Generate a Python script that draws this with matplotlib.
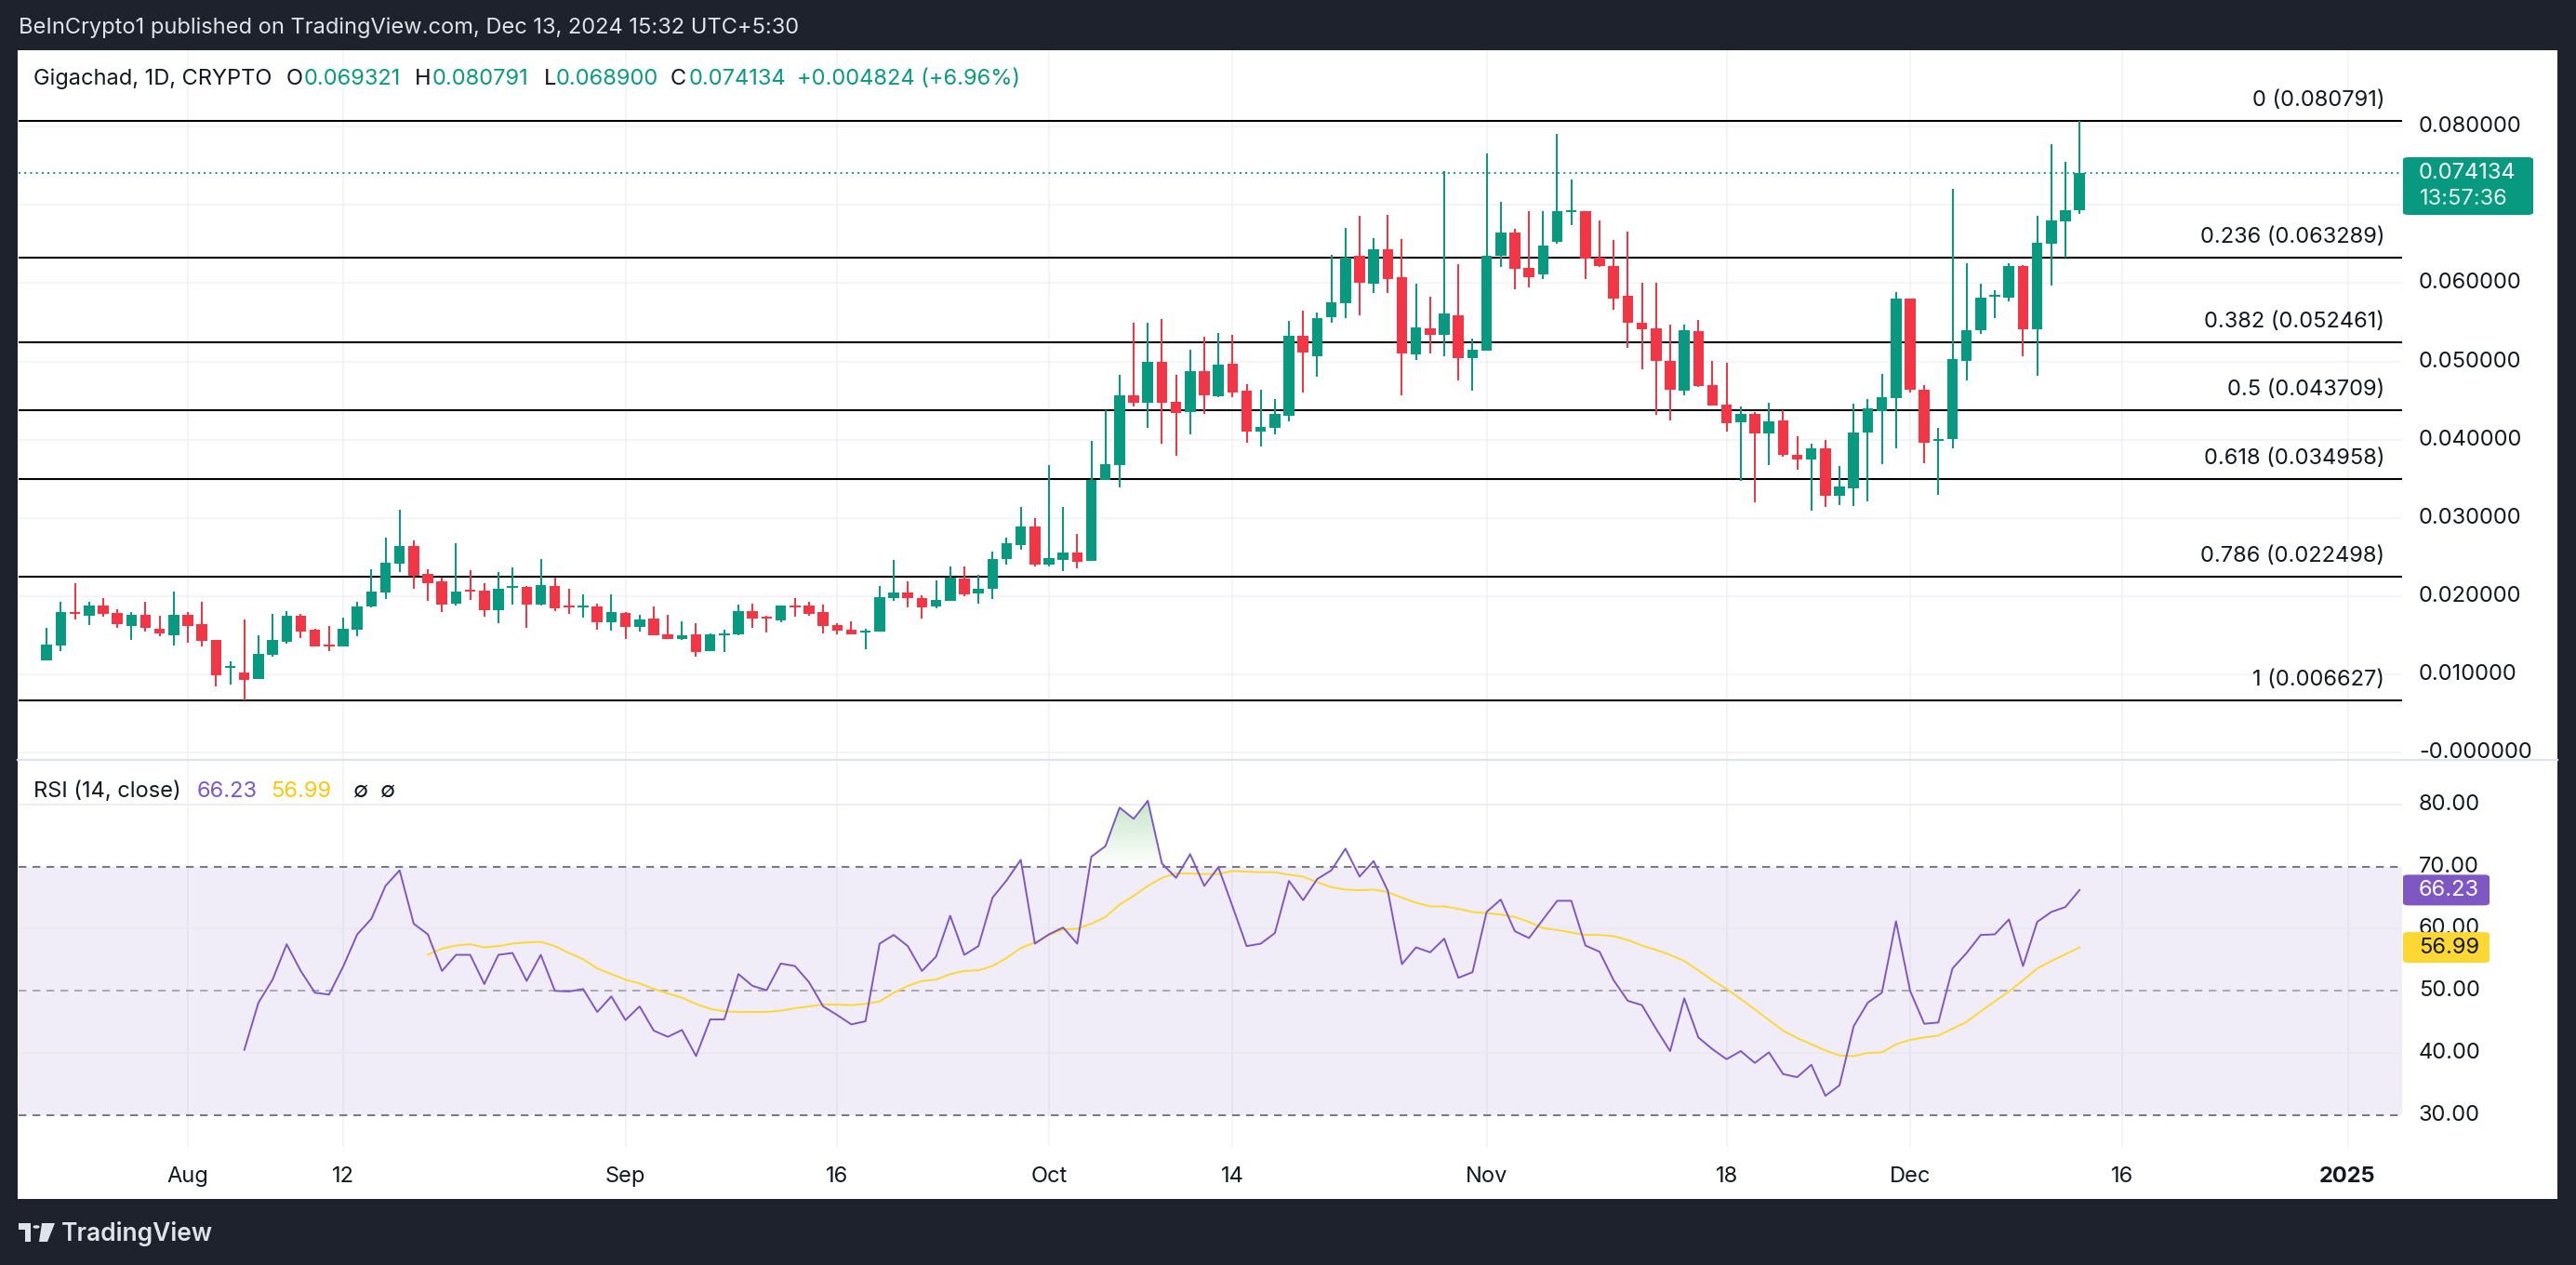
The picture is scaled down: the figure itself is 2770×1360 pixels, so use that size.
import numpy as np
import pandas as pd
import matplotlib
matplotlib.use("Agg")
import matplotlib.pyplot as plt
import matplotlib.transforms as mtransforms
from matplotlib.patches import Rectangle, FancyBboxPatch, Polygon, Circle
from matplotlib.lines import Line2D
from matplotlib.path import Path
from matplotlib.colors import LinearSegmentedColormap

plt.rcParams['font.family'] = ['Inter', 'DejaVu Sans']

# ---------------- data ----------------
CANDLE_START = '2024-07-22'
REF_DATE = '2024-08-01'

opens = [
    .01181, .01371, .01795, .01752, .01879, .01784, .01621, .01760, .01581, .01502,
    .01760, .01641, .01439, .01086, .01023, .00943, .01252, .01419, .01748, .01570,
    .01379, .01360, .01574, .01871, .02049, .02418, .02640, .02283, .02188, .01906,
    .02081, .02069, .01823, .02109, .02117, .01895, .02128, .01879, .01859, .01867,
    .01669, .01784, .01609, .01712, .01510, .01455, .01510, .01300, .01502, .01514,
    .01807, .01736, .01692, .01879, .01879, .01795, .01629, .01570, .01538, .01550,
    .01974, .02045, .01974, .01861, .01942, .02222, .02035, .02094, .02472, .02651,
    .02885, .02397, .02459, .02553, .02455, .03482, .03673, .04565, .04476, .04998,
    .04480, .04353, .04875, .04552, .04969, .04625, .04107, .04154, .04307, .05326,
    .05066, .05562, .05741, .06349, .05992, .06434, .06077, .05088, .05423, .05338,
    .05589, .05042, .05135, .06349, .06648, .06197, .06112, .06527, .06912, .06918,
    .06328, .06218, .05840, .05492, .05423, .05011, .04625, .05385, .04698, .04447,
    .04222, .04328, .04083, .04247, .03807, .03748, .03886, .03276, .03382, .04088,
    .04366, .04529, .05808, .04635, .03981, .04007, .05011, .05400, .05829, .05818,
    .06216, .05415, .06509, .06795, .069321]
highs = [
    .01593, .01926, .02164, .01926, .01974, .01831, .01795, .01926, .01748, .02057,
    .01795, .01926, .01439, .01165, .01700, .01498, .01772, .01807, .01772, .01581,
    .01617, .01724, .01926, .02342, .02747, .03103, .02711, .02342, .02235, .02675,
    .02330, .02164, .02307, .02366, .02128, .02473, .02235, .02093, .02021, .01902,
    .02021, .01795, .01760, .01867, .01760, .01677, .01653, .01526, .01574, .01891,
    .01902, .01748, .01879, .01974, .01926, .01891, .01653, .01677, .01581, .02128,
    .02461, .02188, .02010, .02201, .02378, .02378, .02273, .02565, .02752, .03140,
    .02993, .03674, .03138, .02795, .03984, .04375, .04829, .05492, .05492, .05543,
    .04828, .05148, .05313, .05364, .05339, .04714, .04638, .04519, .05517, .05648,
    .05623, .06362, .06708, .06859, .06575, .06872, .06562, .05993, .05827, .07432,
    .06243, .05292, .07657, .07037, .06690, .06919, .06919, .07908, .07326, .06918,
    .06800, .06553, .06660, .06005, .06005, .05471, .05471, .05529, .05008, .04982,
    .04425, .04353, .04470, .04380, .04040, .03944, .03992, .03665, .04459, .04514,
    .04842, .05887, .05808, .04699, .04151, .07204, .06254, .05989, .05909, .06254,
    .06227, .06860, .07777, .07549, .080791]
lows = [
    .01181, .01300, .01704, .01633, .01740, .01597, .01443, .01550, .01490, .01371,
    .01407, .01360, .00848, .00872, .006627, .00943, .01229, .01395, .01467, .01360,
    .01300, .01360, .01490, .01859, .01966, .02311, .02093, .01938, .01799, .01883,
    .01954, .01740, .01657, .01895, .01597, .01883, .01811, .01776, .01728, .01574,
    .01562, .01455, .01550, .01502, .01455, .01443, .01229, .01300, .01288, .01502,
    .01597, .01538, .01669, .01740, .01752, .01526, .01514, .01514, .01324, .01550,
    .01942, .01859, .01716, .01844, .01942, .01993, .01903, .01967, .02399, .02592,
    .02384, .02384, .02324, .02354, .02455, .03482, .03389, .04425, .04154, .03952,
    .03799, .04061, .04328, .04540, .04540, .03964, .03916, .04065, .04234, .04600,
    .04804, .05492, .05551, .05590, .05874, .05874, .04566, .05016, .05101, .05071,
    .04757, .04626, .05135, .06205, .05920, .05946, .06052, .06502, .06740, .06052,
    .06205, .05662, .05173, .04895, .04316, .04243, .04566, .04672, .04435, .04107,
    .03472, .03201, .03670, .03785, .03620, .03096, .03137, .03164, .03148, .03212,
    .03689, .03886, .04598, .03700, .03291, .03886, .04757, .05346, .05558, .05765,
    .05070, .04816, .05972, .06328, .068900]
closes = [
    .01379, .01795, .01776, .01879, .01776, .01645, .01760, .01597, .01526, .01760,
    .01621, .01431, .00991, .01106, .00931, .01260, .01439, .01748, .01550, .01360,
    .01360, .01581, .01867, .02057, .02426, .02640, .02259, .02168, .01895, .02057,
    .02061, .01823, .02093, .02128, .01895, .02140, .01847, .01859, .01879, .01669,
    .01795, .01609, .01700, .01502, .01455, .01498, .01288, .01514, .01522, .01807,
    .01716, .01716, .01879, .01859, .01776, .01621, .01562, .01514, .01558, .01986,
    .02045, .01974, .01859, .01950, .02239, .02027, .02094, .02468, .02672, .02885,
    .02397, .02481, .02553, .02442, .03482, .03686, .04565, .04476, .04998, .04476,
    .04345, .04875, .04565, .04956, .04599, .04107, .04162, .04328, .05326, .05113,
    .05550, .05755, .06328, .06005, .06434, .06052, .05101, .05432, .05338, .05610,
    .05042, .05148, .06349, .06648, .06184, .06082, .06481, .06918, .06933, .06319,
    .06218, .05802, .05492, .05411, .05011, .04638, .05398, .04685, .04435, .04209,
    .04328, .04077, .04231, .03807, .03748, .03886, .03276, .03399, .04088, .04402,
    .04545, .05808, .04635, .03960, .04007, .05027, .05400, .05814, .05856, .06216,
    .05415, .06515, .06799, .06932, .074134]

# RSI(14) values, Aug 5 .. Dec 13
rsi = [
    40.5, 48.1, 51.8, 57.5, 53.2, 49.7, 49.4, 53.9, 59.1, 61.6,
    66.9, 69.4, 60.8, 59.1, 53.2, 55.8, 55.8, 51.1, 55.8, 56.1,
    51.6, 55.8, 50.0, 49.9, 50.3, 46.6, 49.1, 45.3, 47.5, 43.6,
    42.6, 43.7, 39.5, 45.4, 45.4, 52.7, 50.8, 50.1, 54.4, 54.0,
    51.4, 47.5, 46.1, 44.6, 45.1, 57.6, 59.0, 57.2, 53.2, 55.5,
    62.1, 55.8, 57.2, 65.0, 67.8, 71.1, 57.6, 59.1, 60.2, 57.6,
    71.6, 73.3, 79.5, 77.7, 80.6, 70.5, 68.2, 72.0, 66.9, 69.9,
    63.6, 57.2, 57.6, 59.3, 67.7, 64.6, 68.0, 69.4, 72.9, 68.4,
    70.9, 66.1, 54.3, 57.0, 56.2, 58.4, 52.1, 53.0, 62.7, 64.7,
    59.6, 58.5, 61.5, 64.5, 64.5, 57.3, 56.3, 51.7, 48.4, 47.7,
    43.9, 40.3, 48.8, 42.5, 40.6, 39.0, 40.3, 38.4, 40.1, 36.6,
    36.1, 38.1, 33.1, 34.8, 44.3, 48.1, 49.7, 61.2, 50.0, 44.7,
    44.9, 53.6, 56.1, 59.0, 59.1, 61.5, 54.0, 61.1, 62.7, 63.5,
    66.23]
# RSI-based moving average, Aug 18 .. Dec 13
rsi_ma = [
    55.8, 56.8, 57.3, 57.5, 57.0, 57.2, 57.6, 57.8, 57.9, 57.2,
    56.1, 55.1, 53.6, 52.7, 51.8, 51.2, 50.3, 49.6, 48.9, 47.9,
    47.1, 46.7, 46.6, 46.6, 46.6, 46.8, 47.2, 47.5, 47.8, 47.8,
    47.7, 47.9, 48.3, 49.7, 50.8, 51.6, 51.8, 52.7, 53.2, 53.3,
    54.0, 55.3, 56.9, 57.8, 59.0, 59.9, 60.0, 60.8, 61.9, 63.9,
    65.3, 66.9, 68.2, 68.9, 68.9, 68.8, 68.8, 69.3, 69.2, 69.1,
    69.1, 68.7, 68.4, 67.5, 66.7, 66.3, 66.2, 66.3, 65.9, 65.0,
    64.2, 63.6, 63.6, 63.2, 62.7, 62.5, 62.3, 61.9, 61.1, 60.1,
    59.8, 59.4, 59.0, 59.0, 58.8, 58.2, 57.3, 56.6, 55.8, 54.8,
    53.3, 51.7, 50.3, 48.7, 47.0, 45.3, 43.6, 42.4, 41.4, 40.4,
    39.6, 39.5, 40.0, 40.1, 41.4, 42.1, 42.5, 42.8, 43.9, 45.0,
    46.7, 48.3, 49.9, 51.7, 53.6, 54.8, 55.9, 56.99]

fib_prices = [0.080791, 0.063289, 0.052461, 0.043709, 0.034958, 0.022498, 0.006627]
fib_labels = ['0 (0.080791)', '0.236 (0.063289)', '0.382 (0.052461)', '0.5 (0.043709)',
              '0.618 (0.034958)', '0.786 (0.022498)', '1 (0.006627)']

price_grid = [0.00, 0.01, 0.02, 0.03, 0.04, 0.05, 0.06, 0.07, 0.08]
price_tick_vals = [0.08, 0.06, 0.05, 0.04, 0.03, 0.02, 0.01, 0.0]
price_tick_labels = ['0.080000', '0.060000', '0.050000', '0.040000', '0.030000',
                     '0.020000', '0.010000', '-0.000000']
rsi_tick_vals = [80, 70, 60, 50, 40, 30]
rsi_tick_labels = ['80.00', '70.00', '60.00', '50.00', '40.00', '30.00']
time_tick_dates = ['2024-08-01', '2024-08-12', '2024-09-01', '2024-09-16', '2024-10-01',
                   '2024-10-14', '2024-11-01', '2024-11-18', '2024-12-01', '2024-12-16',
                   '2025-01-01']
time_tick_labels = ['Aug', '12', 'Sep', '16', 'Oct', '14', 'Nov', '18', 'Dec', '16', '2025']

header_text = 'BeInCrypto1 published on TradingView.com, Dec 13, 2024 15:32 UTC+5:30'
symbol_text = 'Gigachad, 1D, CRYPTO'
change_text = '+0.004824 (+6.96%)'
countdown_text = '13:57:36'

# ---------------- style ----------------
FRAME = '#1E222D'
GREEN = '#089981'
RED = '#F23645'
PURPLE = '#7E57C2'
YELLOW = '#FDD835'
GRID = '#F0F1F5'
DARK = '#131722'
FS = 17.0

W, H, DPI = 2770, 1360, 100
fig = plt.figure(figsize=(W / DPI, H / DPI), dpi=DPI)
fig.patch.set_facecolor(FRAME)


def fx(px):
    return px / W


def fy(py):
    return 1 - py / H


fig.add_artist(Rectangle((fx(19), fy(1289)), fx(2750) - fx(19), fy(54) - fy(1289),
                         transform=fig.transFigure, facecolor='white', edgecolor='none', zorder=-5))

ax_p = fig.add_axes([fx(20), fy(816), fx(2583) - fx(20), fy(54) - fy(816)])
ax_r = fig.add_axes([fx(20), fy(1233), fx(2583) - fx(20), fy(817) - fy(1233)])
XLIM = (-11.99, 156.85)
for ax in (ax_p, ax_r):
    ax.set_facecolor('none')
    for s in ax.spines.values():
        s.set_visible(False)
    ax.set_xticks([])
    ax.set_yticks([])

ref = pd.Timestamp(REF_DATE)
dates = pd.date_range(CANDLE_START, periods=len(opens), freq='D')
x = np.asarray((dates - ref).days, dtype=float)
o = np.array(opens); h = np.array(highs); l = np.array(lows); c = np.array(closes)
tick_x = np.array([(pd.Timestamp(t) - ref).days for t in time_tick_dates], dtype=float)

# grids
for t in tick_x:
    ax_p.axvline(t, color=GRID, lw=1.1, zorder=0)
    ax_r.axvline(t, color=GRID, lw=1.1, zorder=0)
for v in price_grid:
    ax_p.axhline(v, color=GRID, lw=1.1, zorder=0)
for v in (80, 60, 40):
    ax_r.axhline(v, color='#E9E9EF', lw=1.1, zorder=0.6)

# pane separator
fig.add_artist(Line2D([fx(19), fx(2750)], [fy(817), fy(817)], transform=fig.transFigure,
                      color='#E0E3EB', lw=1.6, zorder=1))

# fib lines
for p in fib_prices:
    ax_p.axhline(p, color='black', lw=1.5, zorder=2)

# last price dotted line
ax_p.axhline(c[-1], color=GREEN, lw=1.4, ls=(0, (1, 2.2)), zorder=2)

# candles
up = c >= o
cols = np.where(up, GREEN, RED)
ax_p.vlines(x, l, h, colors=cols, lw=1.45, zorder=3)
body_lo = np.minimum(o, c)
body_h = np.maximum(np.abs(c - o), 0.00022)
ax_p.bar(x, body_h, bottom=body_lo, width=0.76, color=cols, linewidth=0, zorder=4)

ax_p.set_xlim(*XLIM)
ax_p.set_ylim(-0.000832, 0.089774)

# fib labels
tr_fib = mtransforms.blended_transform_factory(fig.transFigure, ax_p.transData) + \
    mtransforms.ScaledTranslation(0, 22 / DPI, fig.dpi_scale_trans)
for p, lab in zip(fib_prices, fib_labels):
    fig.text(fx(2564), p, lab, transform=tr_fib, ha='right', va='center',
             fontsize=FS, color=DARK, zorder=3)

# RSI pane
xr = x[-len(rsi):]
xm = x[-len(rsi_ma):]
rsi_a = np.array(rsi)
ax_r.axhspan(30, 70, facecolor=PURPLE, alpha=0.1, edgecolor='none', zorder=0.5)
ax_r.axhline(70, color='#787B86', lw=1.5, ls=(0, (4, 3.2)), zorder=1)
ax_r.axhline(30, color='#787B86', lw=1.5, ls=(0, (4, 3.2)), zorder=1)
ax_r.axhline(50, color='#A9ABB3', lw=1.5, ls=(0, (4, 3.2)), zorder=1)

fb = ax_r.fill_between(xr, 70, rsi_a, where=rsi_a >= 70, interpolate=True,
                       facecolor='none', edgecolor='none')
paths = fb.get_paths()
if len(paths):
    comp = Path.make_compound_path(*paths)
    cmap = LinearSegmentedColormap.from_list('ob', [(0.30, 0.69, 0.31, 0.0), (0.30, 0.69, 0.31, 0.32)])
    grad = np.linspace(0, 1, 256).reshape(-1, 1)
    im = ax_r.imshow(grad, extent=[xr[0], xr[-1], 70, rsi_a.max()], origin='lower',
                     aspect='auto', cmap=cmap, zorder=1.5, interpolation='bilinear')
    im.set_clip_path(comp, transform=ax_r.transData)

ax_r.plot(xm, rsi_ma, color=YELLOW, lw=1.4, zorder=2)
ax_r.plot(xr, rsi, color=PURPLE, lw=1.4, zorder=3)
ax_r.set_xlim(*XLIM)
ax_r.set_ylim(24.88, 87.18)

# axis labels (price scale)
tr_py = mtransforms.blended_transform_factory(fig.transFigure, ax_p.transData)
for v, lab in zip(price_tick_vals, price_tick_labels):
    fig.text(fx(2601), v, lab, transform=tr_py, ha='left', va='center', fontsize=FS,
             color=DARK, zorder=3)
tr_ry = mtransforms.blended_transform_factory(fig.transFigure, ax_r.transData)
for v, lab in zip(rsi_tick_vals, rsi_tick_labels):
    fig.text(fx(2601), v, lab, transform=tr_ry, ha='left', va='center', fontsize=FS,
             color=DARK, zorder=3)
tr_tx = mtransforms.blended_transform_factory(ax_r.transData, fig.transFigure)
for t, lab in zip(tick_x, time_tick_labels):
    fig.text(t, fy(1265), lab, transform=tr_tx, ha='center', va='center', fontsize=FS,
             color=DARK, fontweight='bold' if lab == '2025' else 'normal', zorder=3)


def fig_y(ax, val):
    return fig.transFigure.inverted().transform(ax.transData.transform((0, val)))[1]


# price tag
yc = fig_y(ax_p, c[-1])
fig.add_artist(FancyBboxPatch((fx(2584), yc - 45.5 / H), fx(2724) - fx(2584), 62 / H,
                              boxstyle='round,pad=0,rounding_size=0.002', transform=fig.transFigure,
                              facecolor=GREEN, edgecolor='none', zorder=5))
fig.text(fx(2601), yc, f'{c[-1]:.6f}', ha='left', va='center', fontsize=FS, color='white', zorder=6)
fig.text(fx(2602), yc - 28.3 / H, countdown_text, ha='left', va='center', fontsize=FS,
         color='#E6F4F1', zorder=6)

# rsi tags
for val, bg, fg in ((rsi[-1], PURPLE, 'white'), (rsi_ma[-1], YELLOW, DARK)):
    yv = fig_y(ax_r, val)
    fig.add_artist(FancyBboxPatch((fx(2584), yv - 16.5 / H), fx(2677) - fx(2584), 33 / H,
                                  boxstyle='round,pad=0,rounding_size=0.002', transform=fig.transFigure,
                                  facecolor=bg, edgecolor='none', zorder=5))
    fig.text(fx(2601), yv, f'{val:.2f}', ha='left', va='center', fontsize=FS, color=fg, zorder=6)

# header
fig.text(fx(20), fy(30), header_text, ha='left', va='center', fontsize=FS, color='#E0E3EB')

# symbol / OHLC line
sym_parts = [(36, symbol_text, DARK), (308, 'O', DARK), (327, f'{o[-1]:.6f}', GREEN),
             (446, 'H', DARK), (465, f'{h[-1]:.6f}', GREEN), (585, 'L', DARK),
             (598, f'{l[-1]:.6f}', GREEN), (721, 'C', DARK), (741, f'{c[-1]:.6f}', GREEN),
             (857, change_text, GREEN)]
for px, txt, col in sym_parts:
    fig.text(fx(px), fy(85), txt, ha='left', va='center', fontsize=FS, color=col)

# RSI legend
rsi_parts = [(36, 'RSI (14, close)', DARK), (212, f'{rsi[-1]:.2f}', PURPLE),
             (291, f'{rsi_ma[-1]:.2f}', '#F9C80E'), (380, '\u2205', DARK), (409, '\u2205', DARK)]
for px, txt, col in rsi_parts:
    fig.text(fx(px), fy(851), txt, ha='left', va='center', fontsize=FS, color=col)

# TradingView logo
LOGO = '#E0E3EB'
fig.add_artist(Rectangle((fx(20), fy(1322)), fx(33) - fx(20), 7 / H, transform=fig.transFigure,
                         facecolor=LOGO, edgecolor='none'))
fig.add_artist(Rectangle((fx(27), fy(1335)), fx(33) - fx(27), 20 / H, transform=fig.transFigure,
                         facecolor=LOGO, edgecolor='none'))
fig.add_artist(Circle((fx(39), fy(1319)), 3.6 / W, transform=fig.transFigure, facecolor=LOGO,
                      edgecolor='none'))
fig.add_artist(Polygon([(fx(45), fy(1315)), (fx(59), fy(1315)), (fx(51), fy(1335)), (fx(42), fy(1335))],
                       closed=True, transform=fig.transFigure, facecolor=LOGO, edgecolor='none'))
fig.text(fx(66), fy(1326), 'TradingView', ha='left', va='center', fontsize=19, color=LOGO,
         fontweight='semibold')

fig.savefig('out.png', dpi=DPI, facecolor=FRAME)
